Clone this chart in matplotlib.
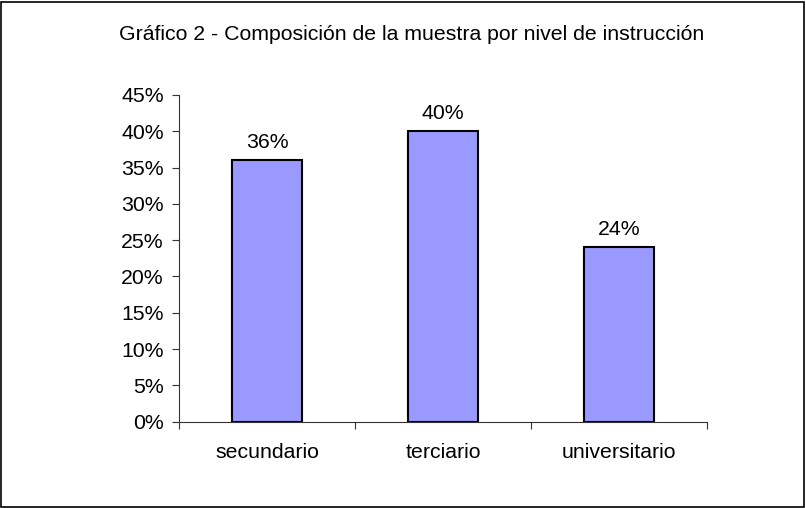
import matplotlib
matplotlib.use("Agg")
import matplotlib.pyplot as plt
from matplotlib.patches import Rectangle

categories = ["secundario", "terciario", "universitario"]
values = [0.36, 0.40, 0.24]
y_ticks = [0, 0.05, 0.10, 0.15, 0.20, 0.25, 0.30, 0.35, 0.40, 0.45]
title = "Gráfico 2 - Composición de la muestra por nivel de instrucción"

plt.rcParams['font.family'] = ['Liberation Sans', 'DejaVu Sans']
fs = 15.3

fig = plt.figure(figsize=(8.06, 5.08), dpi=100)
fig.patches.append(Rectangle((0.0015, 0.002), 0.996, 0.995, transform=fig.transFigure,
                             fill=False, edgecolor='black', linewidth=1.2))

ax = fig.add_axes([179/806, 1 - 421.7/508, (707-179)/806, (421.7-95)/508])
x = list(range(len(categories)))
ax.bar(x, values, width=0.4, color='#9999FF', edgecolor='black', linewidth=1.5, zorder=3)
for xi, v in zip(x, values):
    ax.text(xi, v + 0.012, f"{round(v*100)}%", ha='center', va='bottom', fontsize=fs)

ax.set_xlim(-0.5, len(categories) - 0.5)
ax.set_ylim(0, 0.45)
ax.set_yticks(y_ticks)
ax.set_yticklabels([f"{round(t*100)}%" for t in y_ticks], fontsize=fs)
ax.set_xticks([i - 0.5 for i in range(len(categories) + 1)])
ax.set_xticklabels([])
ax.set_xticks(x, minor=True)
ax.set_xticklabels(categories, minor=True, fontsize=fs)
ax.tick_params(axis='x', which='minor', length=0, pad=15)
ax.tick_params(axis='both', which='major', direction='out', length=5, width=0.8, color='#333333')
ax.tick_params(axis='y', pad=6)
for s in ['top', 'right']:
    ax.spines[s].set_visible(False)
for s in ['left', 'bottom']:
    ax.spines[s].set_color('#333333')
    ax.spines[s].set_linewidth(0.8)

fig.text(412/806, 1 - 35/508, title, ha='center', va='center', fontsize=fs)

fig.savefig("out.png", dpi=100)
